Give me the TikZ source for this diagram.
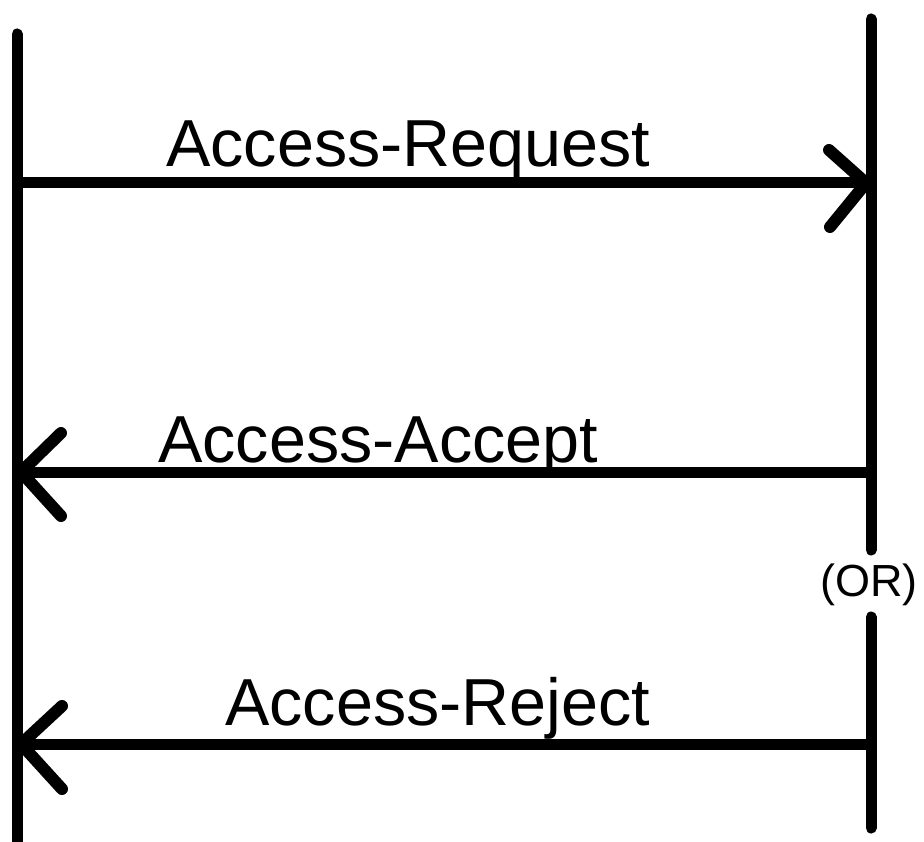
\documentclass[tikz,border=0pt]{standalone}
\usepackage{fontspec}
\setmainfont{Liberation Sans}
\begin{document}
\begin{tikzpicture}[x=1pt,y=-1pt,
  lifeline/.style={line width=11pt,line cap=round},
  msg/.style={line width=11pt},
  headline/.style={line width=12pt,line cap=round,line join=round},
  lbl/.style={anchor=base west,inner sep=0pt,font=\fontsize{66.5}{70}\selectfont},
  orlbl/.style={inner sep=0pt,font=\fontsize{45}{48}\selectfont}]
\useasboundingbox (0,0) rectangle (924,842);
% lifeline points
\coordinate (Ltop) at (17,34);
\coordinate (Lbot) at (17,850);
\coordinate (Rtop) at (871,19);
\coordinate (Rgap1) at (871,550);
\coordinate (Rgap2) at (871,617);
\coordinate (Rbot) at (871,828);
\draw[lifeline] (Ltop) -- (Lbot);
\draw[lifeline] (Rtop) -- (Rgap1);
\draw[lifeline] (Rgap2) -- (Rbot);
% message 1
\coordinate (m1s) at (17,183);
\coordinate (m1e) at (866,183);
\coordinate (m1a) at (829,150);
\coordinate (m1b) at (830,227);
\draw[msg] (m1s) -- (m1e);
\draw[headline] (m1a) -- (m1e) -- (m1b);
% message 2
\coordinate (m2s) at (871,472);
\coordinate (m2e) at (21,472);
\coordinate (m2a) at (61,433);
\coordinate (m2b) at (61,516);
\draw[msg] (m2s) -- (m2e);
\draw[headline] (m2a) -- (m2e) -- (m2b);
% message 3
\coordinate (m3s) at (871,744);
\coordinate (m3e) at (21,744);
\coordinate (m3a) at (62,706);
\coordinate (m3b) at (62,789);
\draw[msg] (m3s) -- (m3e);
\draw[headline] (m3a) -- (m3e) -- (m3b);
% labels
\node[lbl] (t1) at (166,167) {Access-Request};
\node[lbl] (t2) at (158,462) {Access-Accept};
\node[lbl] (t3) at (225,725) {Access-Reject};
\node[orlbl] (or) at (869,585) {(OR)};
\end{tikzpicture}
\end{document}
